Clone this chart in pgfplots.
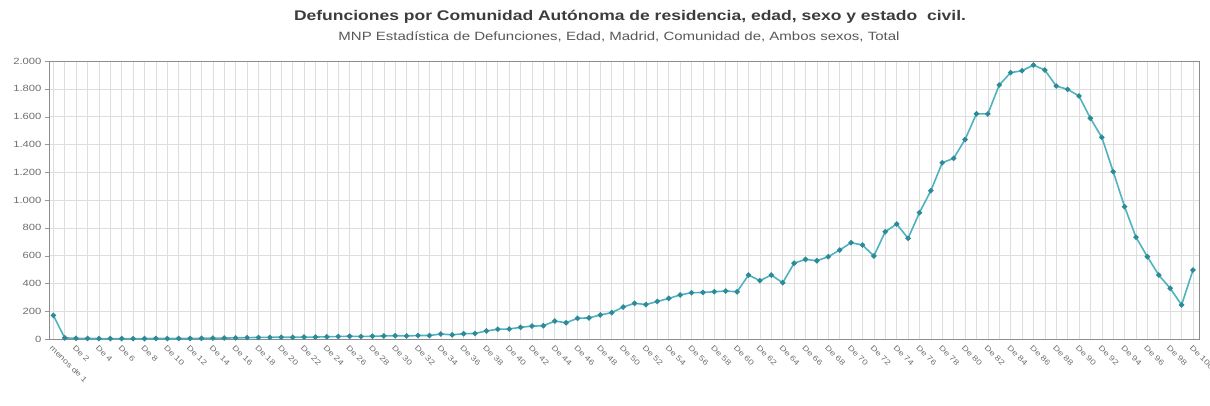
\documentclass[border=0pt]{standalone}
\usepackage{fontspec}
\setmainfont[FakeStretch=1.25]{Liberation Sans}
\usepackage{pgfplots}
\pgfplotsset{compat=1.18}
\definecolor{serie}{RGB}{78,178,192}
\definecolor{marca}{RGB}{45,138,152}
\definecolor{rejilla}{RGB}{222,222,222}
\definecolor{texto}{RGB}{110,110,110}
\definecolor{titulo}{RGB}{60,60,60}
\begin{document}
\begin{tikzpicture}
\begin{axis}[
  scale only axis,
  width=1150pt, height=278pt,
  xmin=-0.38, xmax=100.53,
  ymin=0, ymax=2000,
  xtick={0,2,...,100},
  minor xtick={1,3,...,99},
  ytick={0,200,...,2000},
  ytick pos=left,
  xmajorgrids, xminorgrids, ymajorgrids,
  grid style={rejilla, line width=0.6pt},
  minor grid style={rejilla, line width=0.6pt},
  axis line style={draw=gray!90, line width=0.8pt},
  tick align=outside,
  xtick style={draw=none},
  minor tick length=0pt,
  ytick style={draw=gray!80},
  major tick length=4pt,
  /pgf/number format/assume math mode=true,
  /pgf/number format/1000 sep={.},
  yticklabel style={font=\fontsize{9}{10}\selectfont, text=texto},
  xticklabel style={font=\fontsize{7.5}{9}\selectfont, text=texto,
    rotate=-45, anchor=north west, inner sep=1pt},
  xticklabel={\ifnum\ticknum=0 menos de 1\else\pgfmathtruncatemacro\edad{\tick}De \edad\fi},
]
\addplot[serie, line width=1.6pt, mark=*, mark size=1.8pt,
  mark options={fill=marca, draw=marca}] coordinates {
(0,170) (1,8) (2,5) (3,4) (4,3) (5,3) (6,3) (7,3) (8,3) (9,4)
(10,3) (11,4) (12,4) (13,5) (14,6) (15,7) (16,8) (17,10) (18,11) (19,12)
(20,13) (21,12) (22,14) (23,14) (24,16) (25,18) (26,20) (27,18) (28,20) (29,22)
(30,24) (31,22) (32,25) (33,25) (34,36) (35,30) (36,38) (37,40) (38,58) (39,70)
(40,72) (41,84) (42,93) (43,95) (44,129) (45,117) (46,149) (47,152) (48,173) (49,190)
(50,230) (51,257) (52,248) (53,270) (54,292) (55,317) (56,333) (57,335) (58,340) (59,345)
(60,340) (61,460) (62,420) (63,460) (64,405) (65,545) (66,573) (67,563) (68,592) (69,640)
(70,693) (71,676) (72,597) (73,772) (74,827) (75,724) (76,909) (77,1067) (78,1268) (79,1300)
(80,1435) (81,1620) (82,1619) (83,1827) (84,1916) (85,1930) (86,1971) (87,1935) (88,1820) (89,1796)
(90,1748) (91,1588) (92,1451) (93,1204) (94,952) (95,732) (96,592) (97,460) (98,365) (99,245)
(100,496)
};
\end{axis}
\node[font=\fontsize{14}{16}\selectfont\bfseries, text=titulo] at (581pt,322pt)
  {Defunciones por Comunidad Autónoma de residencia, edad, sexo y estado\ \ civil.};
\node[font=\fontsize{12}{14}\selectfont, text=texto!80!black] at (570pt,302pt)
  {MNP Estadística de Defunciones, Edad, Madrid, Comunidad de, Ambos sexos, Total};
\pgfresetboundingbox
\path[use as bounding box] (-49pt,-66pt) rectangle (1161pt,339pt);
\end{tikzpicture}
\end{document}
